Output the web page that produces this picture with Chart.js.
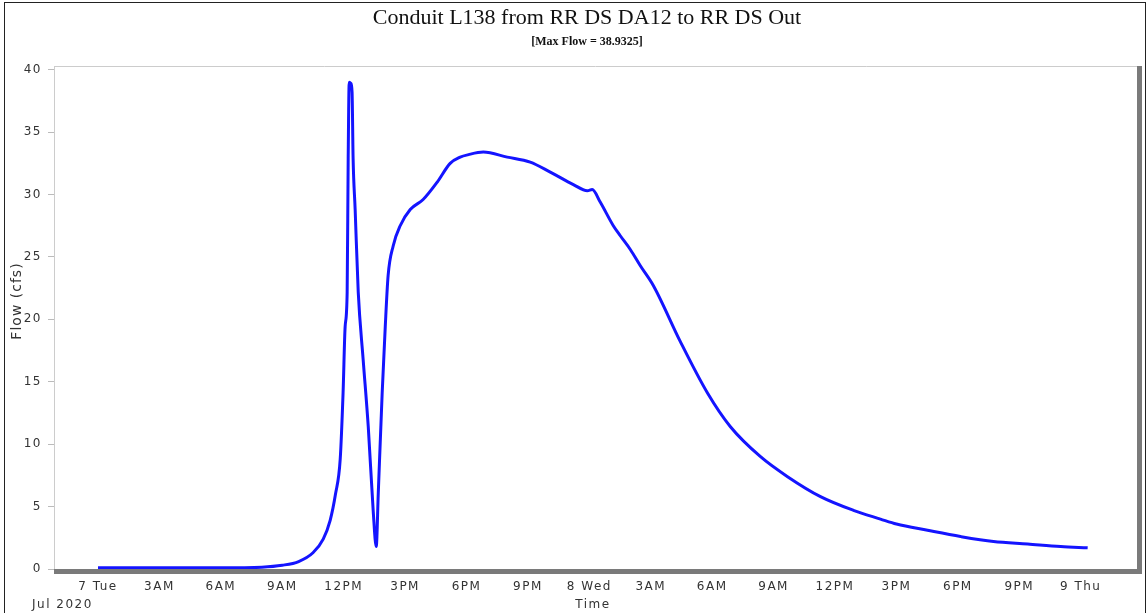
<!DOCTYPE html>
<html>
<head>
<meta charset="utf-8">
<script src="https://cdn.jsdelivr.net/npm/chart.js@4"></script>
<style>
  html, body { margin: 0; padding: 0; background: #fff; }
  canvas { display: block; }
</style>
</head>
<body>
<canvas id="graph" width="1148" height="613"></canvas>
<script>
// === DATA === //

// hours since 7 Tue 00:00
const hours = [0, 3, 6, 8, 9, 9.8, 10.5, 11.0, 11.34, 11.6, 11.83, 11.97, 12.07, 12.17, 12.22, 12.27, 12.35,
  12.41, 12.46, 12.56, 12.71, 12.95, 13.2, 13.44, 13.59, 13.69, 13.88, 14.03, 14.17, 14.42, 14.76, 15.25,
  15.88, 16.57, 17.2, 17.69, 18.1, 18.82, 19.99, 21.11, 22.09, 23.22, 23.9, 24.14, 24.53, 25.17, 25.51,
  26.0, 26.49, 27.13, 28.45, 29.77, 30.89, 32.36, 33.68, 35.29, 36.9, 38.22, 39.0, 40.52, 42.13, 43.74,
  45.41, 47.02, 48.34]
const flowCfs = [0.1, 0.1, 0.1, 0.15, 0.3, 0.6, 1.3, 2.4, 3.9, 6.0, 8.8, 14.1, 19.4, 22.2, 32.9, 39.0, 38.9,
  38.2, 32.9, 28.8, 22.2, 16.8, 11.4, 4.7, 1.8, 6.1, 14.1, 19.4, 23.5, 25.9, 27.5, 28.8,
  29.6, 31.0, 32.5, 33.0, 33.2, 33.4, 33.0, 32.6, 31.8, 30.8, 30.3, 30.4, 29.4, 27.5, 26.7,
  25.6, 24.3, 22.7, 18.2, 14.1, 11.4, 9.0, 7.4, 5.8, 4.7, 4.0, 3.6, 3.1, 2.6, 2.2,
  2.0, 1.8, 1.7]

const tickHours = [0, 3, 6, 9, 12, 15, 18, 21, 24, 27, 30, 33, 36, 39, 42, 45, 48]
const tickLabels = ["7 Tue", "3AM", "6AM", "9AM", "12PM", "3PM", "6PM", "9PM", "8 Wed",
  "3AM", "6AM", "9AM", "12PM", "3PM", "6PM", "9PM", "9 Thu"]
const flowTicks = [0, 5, 10, 15, 20, 25, 30, 35, 40]

const chartTitle = "Conduit L138 from RR DS DA12 to RR DS Out"
const chartSubtitle = "[Max Flow = 38.9325]"
const yAxisTitle = "Flow (cfs)"
const xAxisTitle = "Time"
const dateLabel = "Jul 2020"

// === FRAME + TEXT === //

const framePlugin = {
  id: 'frame',
  beforeDraw(chart) {
    chart.ctx.letterSpacing = '1.5px'
  },
  beforeDatasetsDraw(chart) {
    const ctx = chart.ctx
    const a = chart.chartArea
    ctx.letterSpacing = '0px'
    ctx.save()
    ctx.strokeStyle = '#cccccc'
    ctx.lineWidth = 1
    ctx.beginPath()
    ctx.moveTo(a.left, a.top + 0.5)
    ctx.lineTo(a.right, a.top + 0.5)
    ctx.stroke()
    ctx.fillStyle = '#7a7a7a'
    ctx.fillRect(a.left, a.bottom, a.right - a.left + 5, 5)
    ctx.fillRect(a.right, a.top, 5, a.bottom - a.top + 5)
    ctx.restore()
  },
  afterDraw(chart) {
    const ctx = chart.ctx
    ctx.save()
    ctx.fillStyle = '#111'
    ctx.textAlign = 'center'
    ctx.textBaseline = 'middle'
    ctx.font = '22px "Liberation Serif"'
    ctx.fillText(chartTitle, 587, 18)
    ctx.font = 'bold 12px "Liberation Serif"'
    ctx.fillText(chartSubtitle, 587, 42)

    ctx.fillStyle = '#333'
    ctx.letterSpacing = '1.5px'
    ctx.font = '12px "DejaVu Sans"'
    ctx.fillText(xAxisTitle, 593, 605)
    ctx.textAlign = 'left'
    ctx.fillText(dateLabel, 32, 605)

    ctx.letterSpacing = '1px'
    ctx.font = '14px "DejaVu Sans"'
    ctx.textAlign = 'center'
    ctx.translate(17, 301)
    ctx.rotate(-Math.PI / 2)
    ctx.fillText(yAxisTitle, 0, 0)
    ctx.restore()

    ctx.save()
    ctx.letterSpacing = '0px'
    ctx.strokeStyle = '#222'
    ctx.lineWidth = 1
    ctx.strokeRect(4.5, 2.5, 1141, 640)
    ctx.restore()
  }
}

// === CHART === //

const data = {
  datasets: [{
    label: "Flow",
    data: hours.map((h, i) => ({ x: h, y: flowCfs[i] })),
    borderColor: '#1414ff',
    borderWidth: 3,
    pointRadius: 0,
    cubicInterpolationMode: 'monotone',
    fill: false
  }]
}

const config = {
  type: 'line',
  data,
  options: {
    responsive: false,
    animation: false,
    devicePixelRatio: 1,
    layout: { padding: { top: 66, left: 0, right: 11, bottom: 0 } },
    plugins: {
      legend: { display: false },
      tooltip: { enabled: false }
    },
    scales: {
      x: {
        type: 'linear',
        min: -2.15,
        max: 50.75,
        afterFit: scale => { scale.height = 44 },
        afterBuildTicks: scale => { scale.ticks = tickHours.map(h => ({ value: h })) },
        grid: { display: false, drawTicks: false },
        border: { display: false },
        ticks: {
          autoSkip: false,
          maxRotation: 0,
          padding: 11,
          color: '#333',
          font: { family: 'DejaVu Sans', size: 12 },
          callback: (value) => tickLabels[tickHours.indexOf(value)]
        }
      },
      y: {
        min: 0,
        max: 40.3,
        afterFit: scale => { scale.width = 54 },
        afterBuildTicks: scale => { scale.ticks = flowTicks.map(v => ({ value: v })) },
        grid: { drawOnChartArea: false, tickLength: 6, color: '#bbbbbb' },
        border: { display: true, color: '#cccccc' },
        ticks: {
          padding: 6,
          color: '#333',
          font: { family: 'DejaVu Sans', size: 12 }
        }
      }
    }
  },
  plugins: [framePlugin]
}

var flowChart = new Chart(document.getElementById('graph'), config)
</script>
</body>
</html>
